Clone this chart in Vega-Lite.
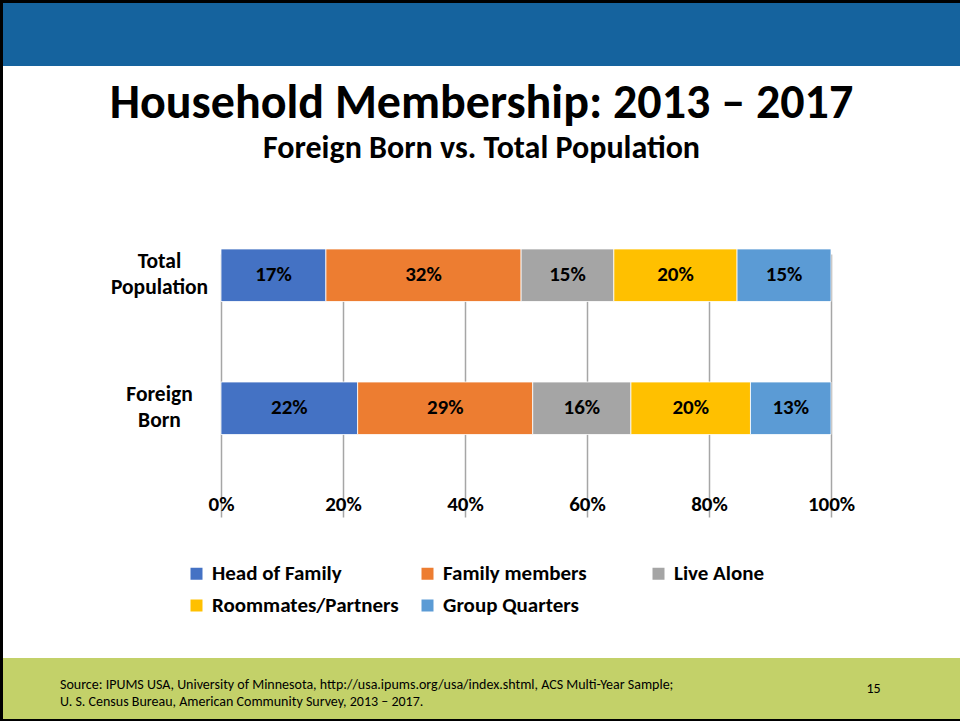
{
  "$schema": "https://vega.github.io/schema/vega-lite/v6.json",
  "background": "black",
  "padding": {"left": 3, "top": 3, "right": 0, "bottom": 2},
  "spacing": 0,
  "bounds": "flush",
  "config": {
    "view": {"stroke": null},
    "concat": {"spacing": 0},
    "font": "Carlito, Calibri, Lato, sans-serif"
  },
  "vconcat": [
    {
      "width": 957,
      "height": 63,
      "view": {"fill": "#15639e", "stroke": null},
      "data": {"values": [{"t": ""}]},
      "mark": {"type": "text"},
      "encoding": {"text": {"field": "t", "type": "nominal"}}
    },
    {
      "width": 957,
      "height": 592,
      "view": {"fill": "white", "stroke": null},
      "title": {
        "text": "Household Membership: 2013 – 2017",
        "subtitle": "Foreign Born vs. Total Population",
        "orient": "top",
        "anchor": "middle",
        "frame": "group",
        "offset": -98,
        "font": "Carlito, Calibri, Lato, sans-serif",
        "fontSize": 48,
        "fontWeight": "bold",
        "color": "black",
        "subtitleFont": "Carlito, Calibri, Lato, sans-serif",
        "subtitleFontSize": 32,
        "subtitleFontWeight": "bold",
        "subtitleColor": "black",
        "subtitlePadding": 5
      },
      "data": {
        "values": [
          {"group": "Total Population", "category": "Head of Family", "order": 1, "pct": 0.172},
          {"group": "Total Population", "category": "Family members", "order": 2, "pct": 0.320},
          {"group": "Total Population", "category": "Live Alone", "order": 3, "pct": 0.152},
          {"group": "Total Population", "category": "Roommates/Partners", "order": 4, "pct": 0.202},
          {"group": "Total Population", "category": "Group Quarters", "order": 5, "pct": 0.154},
          {"group": "Foreign Born", "category": "Head of Family", "order": 1, "pct": 0.224},
          {"group": "Foreign Born", "category": "Family members", "order": 2, "pct": 0.287},
          {"group": "Foreign Born", "category": "Live Alone", "order": 3, "pct": 0.161},
          {"group": "Foreign Born", "category": "Roommates/Partners", "order": 4, "pct": 0.196},
          {"group": "Foreign Born", "category": "Group Quarters", "order": 5, "pct": 0.132}
        ]
      },
      "transform": [
        {"stack": "pct", "groupby": ["group"], "sort": [{"field": "order", "order": "ascending"}], "as": ["v0", "v1"]}
      ],
      "encoding": {
        "y": {
          "field": "group",
          "type": "nominal",
          "sort": ["Total Population", "Foreign Born"],
          "scale": {"domain": ["Total Population", "Foreign Born"], "range": [141, 404], "paddingInner": 0.605, "paddingOuter": 0.291, "align": 0.542},
          "axis": {
            "title": null,
            "orient": "left",
            "offset": -218,
            "domain": false,
            "ticks": false,
            "grid": false,
            "labelExpr": "datum.value == 'Total Population' ? ['Total', 'Population'] : ['Foreign', 'Born']",
            "labelAlign": "center",
            "labelBaseline": "middle",
            "labelPadding": 62,
            "labelOffset": -13,
            "labelFontSize": 21.5,
            "labelFontWeight": "bold",
            "labelColor": "black",
            "labelLineHeight": 26
          }
        }
      },
      "layer": [
        {
          "mark": {"type": "bar", "stroke": "white", "strokeWidth": 0.8},
          "encoding": {
            "x": {
              "field": "v0",
              "type": "quantitative",
              "scale": {"domain": [-0.357377, 1.211475], "zero": false, "nice": false},
              "axis": {
                "title": null,
                "orient": "bottom",
                "offset": -188,
                "values": [0, 0.2, 0.4, 0.6, 0.8, 1],
                "format": ".0%",
                "grid": true,
                "gridColor": "#a6a6a6",
                "gridWidth": 1.5,
                "domain": false,
                "ticks": false,
                "labelPadding": 23,
                "labelFontSize": 21,
                "labelFontWeight": "bold",
                "labelColor": "black"
              }
            },
            "x2": {"field": "v1"},
            "color": {
              "field": "category",
              "type": "nominal",
              "scale": {
                "domain": ["Head of Family", "Family members", "Live Alone", "Roommates/Partners", "Group Quarters"],
                "range": ["#4472c4", "#ed7d31", "#a5a5a5", "#ffc000", "#5b9bd5"]
              },
              "legend": {
                "title": null,
                "orient": "none",
                "legendX": 183,
                "legendY": 560,
                "columns": 3,
                "direction": "horizontal",
                "gridAlign": "all",
                "columnPadding": 18,
                "rowPadding": 10,
                "padding": 0,
                "symbolType": "square",
                "symbolSize": 144,
                "symbolStrokeWidth": 0,
                "symbolOpacity": 1,
                "labelFontSize": 21,
                "labelFontWeight": "bold",
                "labelColor": "black",
                "labelOffset": 5,
                "labelLimit": 0
              }
            }
          }
        },
        {
          "transform": [{"fold": ["v0", "v1"], "as": ["edge", "pos"]}],
          "mark": {"type": "text", "fontSize": 21, "fontWeight": "bold", "color": "black"},
          "encoding": {
            "x": {"aggregate": "mean", "field": "pos", "type": "quantitative"},
            "text": {"field": "pct", "type": "quantitative", "format": ".0%"},
            "detail": {"field": "category", "type": "nominal"}
          }
        }
      ]
    },
    {
      "width": 957,
      "height": 61,
      "view": {"fill": "#c3d169", "stroke": null},
      "title": {
        "text": ["Source: IPUMS USA, University of Minnesota, http://usa.ipums.org/usa/index.shtml, ACS Multi-Year Sample;", "U. S. Census Bureau, American Community Survey, 2013 – 2017."],
        "orient": "top",
        "anchor": "start",
        "frame": "group",
        "dx": 57,
        "offset": -51,
        "font": "Carlito, Calibri, Lato, sans-serif",
        "fontSize": 14,
        "fontWeight": "normal",
        "color": "black",
        "lineHeight": 17
      },
      "data": {"values": [{"page": "15"}]},
      "mark": {"type": "text", "fontSize": 14, "color": "black", "align": "center", "baseline": "middle", "dx": 392},
      "encoding": {"text": {"field": "page", "type": "nominal"}}
    }
  ]
}
